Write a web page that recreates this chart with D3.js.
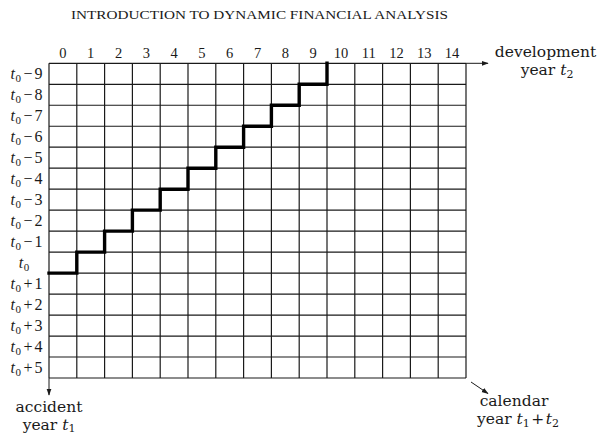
<!DOCTYPE html>
<html><head><meta charset="utf-8">
<script src="https://cdn.jsdelivr.net/npm/d3@7"></script>
<style>
html,body{margin:0;padding:0;background:#fff;}
svg{display:block;}
</style></head>
<body>
<svg id="chart" width="604" height="435"></svg>
<script>
// development years (columns)
const devYears = ["0","1","2","3","4","5","6","7","8","9","10","11","12","13","14"];
// accident years (rows), offsets relative to t0
const accidentOffsets = [-9,-8,-7,-6,-5,-4,-3,-2,-1,0,1,2,3,4,5];
const accidentSuffix = ["\u22129","\u22128","\u22127","\u22126","\u22125","\u22124","\u22123","\u22122","\u22121","","+1","+2","+3","+4","+5"];
// staircase: for development years 0..9, the latest observed accident-year offset
const stairDev = [0,1,2,3,4,5,6,7,8,9];
const stairAcc = [0,-1,-2,-3,-4,-5,-6,-7,-8,-9];
const title = "INTRODUCTION TO DYNAMIC FINANCIAL ANALYSIS";

(function(){
const svg = d3.select("#chart");
const gLeft = 49, gRight = 466, gTop = 63.3, gBottom = 378;
const x = d3.scaleBand().domain(devYears).range([gLeft, gRight]);
const y = d3.scaleBand().domain(accidentOffsets).range([gTop, gBottom]);
const bw = x.bandwidth(), bh = y.bandwidth();
const ink = "#1a1a1a";
const serif = "Liberation Serif";
const wide = "DejaVu Serif";

// title
svg.append("text").attr("x", 259.5).attr("y", 19).attr("text-anchor", "middle")
  .attr("font-family", serif).attr("font-size", 13.5).attr("fill", ink)
  .attr("textLength", 377).attr("lengthAdjust", "spacingAndGlyphs").text(title);

// grid
const g = svg.append("g");
const vpos = devYears.map(d => x(d)).concat([gRight]);
const hpos = accidentOffsets.map(d => y(d)).concat([gBottom]);
g.selectAll("line.v").data(vpos).join("line").attr("class","v")
  .attr("x1", d => d).attr("x2", d => d)
  .attr("y1", gTop).attr("y2", gBottom)
  .attr("stroke", ink).attr("stroke-width", 1.2);
g.selectAll("line.h").data(hpos).join("line").attr("class","h")
  .attr("y1", d => d).attr("y2", d => d)
  .attr("x1", gLeft).attr("x2", gRight)
  .attr("stroke", ink).attr("stroke-width", 1.2);

// column labels
svg.selectAll("text.col").data(devYears).join("text").attr("class","col")
  .attr("x", d => x(d) + bw/2).attr("y", 57.5).attr("text-anchor", "middle")
  .attr("font-family", serif).attr("font-size", 14.5).attr("fill", ink).text(d => d);

// row labels
const rl = svg.selectAll("g.row").data(accidentOffsets).join("g").attr("class","row")
  .attr("transform", d => `translate(${d === 0 ? 24 : 26.5},${y(d) + bh/2 + 5})`);
rl.each(function(d, i) {
  const t = d3.select(this).append("text").attr("text-anchor", "middle")
    .attr("font-family", serif).attr("font-size", 16).attr("fill", ink);
  t.append("tspan").attr("font-style", "italic").text("t");
  t.append("tspan").attr("font-size", 11).attr("dy", 3).attr("dx", 0.5).text("0");
  if (accidentSuffix[i] !== "") {
    t.append("tspan").attr("dy", -3).attr("dx", 2.5).text(accidentSuffix[i].charAt(0));
    t.append("tspan").attr("dx", 2).text(accidentSuffix[i].slice(1));
  }
});

// staircase
const pts = [];
stairDev.forEach((c, i) => {
  const yy = y(stairAcc[i]) + bh;
  pts.push([x(devYears[c]), yy], [x(devYears[c]) + bw, yy]);
});
pts.push([x(devYears[stairDev[stairDev.length-1]]) + bw, y(stairAcc[stairAcc.length-1])]);
svg.append("path").attr("d", d3.line()(pts)).attr("fill", "none")
  .attr("stroke", "#000").attr("stroke-width", 3.4).attr("stroke-linejoin", "miter").attr("stroke-linecap", "square");

// arrows
const defs = svg.append("defs");
defs.append("marker").attr("id", "ah").attr("viewBox", "0 0 10 10").attr("refX", 9).attr("refY", 5)
  .attr("markerWidth", 7).attr("markerHeight", 7).attr("markerUnits", "userSpaceOnUse").attr("orient", "auto")
  .append("path").attr("d", "M0,1.5 L10,5 L0,8.5 Z").attr("fill", ink);
svg.append("line").attr("x1", gRight).attr("x2", 488).attr("y1", gTop).attr("y2", gTop)
  .attr("stroke", ink).attr("stroke-width", 1).attr("marker-end", "url(#ah)");
svg.append("line").attr("x1", gLeft).attr("x2", gLeft).attr("y1", gBottom).attr("y2", 395)
  .attr("stroke", ink).attr("stroke-width", 1).attr("marker-end", "url(#ah)");
svg.append("line").attr("x1", 471).attr("x2", 488).attr("y1", 382).attr("y2", 393.5)
  .attr("stroke", ink).attr("stroke-width", 1).attr("marker-end", "url(#ah)");

// axis titles
function label(xc, yb, parts) {
  const t = svg.append("text").attr("x", xc).attr("y", yb).attr("text-anchor", "middle")
    .attr("font-family", wide).attr("font-size", 15.5).attr("fill", ink);
  parts.forEach(p => {
    const s = t.append("tspan").text(p.t);
    if (p.it) s.attr("font-style", "italic");
    if (p.sub) s.attr("font-size", 11);
    if (p.dy) s.attr("dy", p.dy);
    if (p.dx) s.attr("dx", p.dx);
  });
  return t;
}
label(545.5, 56.5, [{t:"development"}]);
label(547, 74.5, [{t:"year "}, {t:"t", it:true}, {t:"2", sub:true, dy:3}]);
label(49, 411.5, [{t:"accident"}]);
label(49, 429.5, [{t:"year "}, {t:"t", it:true}, {t:"1", sub:true, dy:2}]);
label(514, 405.5, [{t:"calendar"}]);
label(518, 423.5, [{t:"year "}, {t:"t", it:true}, {t:"1", sub:true, dy:3}, {t:"+", dy:-3, dx:1.5}, {t:"t", it:true, dx:1.5}, {t:"2", sub:true, dy:3}]);
})();
</script>
</body></html>
